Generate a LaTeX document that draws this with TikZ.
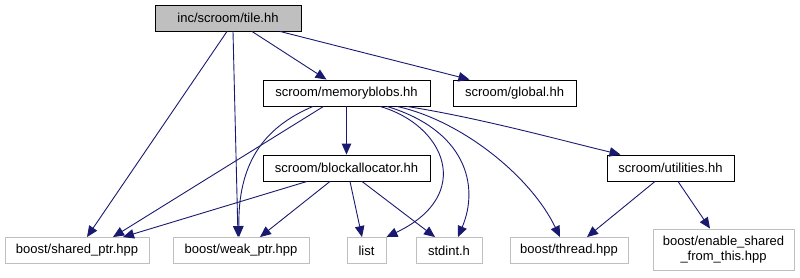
\documentclass[tikz,border=0pt]{standalone}
\usepackage{fontspec}
\setmainfont{Liberation Sans}
\usetikzlibrary{arrows.meta}
\definecolor{edgeblue}{HTML}{191970}
\definecolor{leafgray}{HTML}{BFBFBF}
\begin{document}
\begin{tikzpicture}[x=1pt,y=-1pt,
  every node/.style={font=\fontsize{13}{15}\selectfont, inner sep=0pt, minimum height=26pt, align=center},
  mainfile/.style={draw=black, fill=leafgray, line width=0.9pt},
  header/.style={draw=black, fill=white, line width=0.9pt},
  leaf/.style={draw=leafgray, fill=white, line width=0.9pt},
  dep/.style={draw=edgeblue, line width=0.9pt, -{Triangle[length=11pt,width=9.5pt]}, fill=none},
]
\useasboundingbox (0,0) rectangle (800,277);

% files
\node[mainfile, minimum width=146pt] (tile) at (228,18) {inc/scroom/tile.hh};
\node[header, minimum width=167pt] (mb) at (346.5,93) {scroom/memoryblobs.hh};
\node[header, minimum width=123pt] (glob) at (514.5,93) {scroom/global.hh};
\node[header, minimum width=167pt] (ba) at (346.5,168) {scroom/blockallocator.hh};
\node[header, minimum width=127pt] (util) at (670.5,168) {scroom/utilities.hh};
\node[leaf, minimum width=144pt] (sp) at (77,250.5) {boost/shared\_ptr.hpp};
\node[leaf, minimum width=136pt] (wp) at (241,250.5) {boost/weak\_ptr.hpp};
\node[leaf, minimum width=39pt] (list) at (366.5,250.5) {list};
\node[leaf, minimum width=66pt] (stdint) at (449,250.5) {stdint.h};
\node[leaf, minimum width=118pt] (thr) at (569,250.5) {boost/thread.hpp};
\node[leaf, minimum width=141pt, minimum height=41pt] (esft) at (723.5,249.5) {boost/enable\_shared\\\_from\_this.hpp};

% includes of tile.hh
\draw[dep] ([xshift=24pt]tile.south) -- ([xshift=-20pt]mb.north);
\draw[dep] ([xshift=52pt]tile.south) -- ([xshift=-45pt]glob.north);
\draw[dep] ([xshift=-1pt]tile.south) -- ([xshift=10pt]sp.north);
\draw[dep] ([xshift=5pt]tile.south) -- ([xshift=-3pt]wp.north);

% includes of memoryblobs.hh
\draw[dep] (mb) -- (ba);
\draw[dep] ([xshift=-23pt]mb.south) -- ([xshift=36pt]sp.north);
\draw[dep] ([xshift=-33.5pt]mb.south) .. controls (262,128) and (238,165) .. ([xshift=-2pt]wp.north);
\draw[dep] ([xshift=33.5pt]mb.south) .. controls (445,125) and (475,195) .. (list.north east);
\draw[dep] ([xshift=40.5pt]mb.south) .. controls (465,130) and (480,185) .. ([xshift=9pt]stdint.north);
\draw[dep] ([xshift=50.5pt]mb.south) .. controls (460,120) and (530,175) .. ([xshift=-9pt]thr.north);
\draw[dep] ([xshift=60.5pt]mb.south) .. controls (480,118) and (560,140) .. ([xshift=-50pt]util.north);

% includes of blockallocator.hh
\draw[dep] ([xshift=-39.5pt]ba.south) -- ([xshift=46pt]sp.north);
\draw[dep] ([xshift=-16.5pt]ba.south) -- ([xshift=19pt]wp.north);
\draw[dep] ([xshift=3.5pt]ba.south) -- ([xshift=-4.5pt]list.north);
\draw[dep] ([xshift=15.5pt]ba.south) -- ([xshift=-14pt]stdint.north);

% includes of utilities.hh
\draw[dep] ([xshift=-15.5pt]util.south) -- ([xshift=18pt]thr.north);
\draw[dep] ([xshift=7.5pt]util.south) -- ([xshift=-13.5pt]esft.north);
\end{tikzpicture}
\end{document}
